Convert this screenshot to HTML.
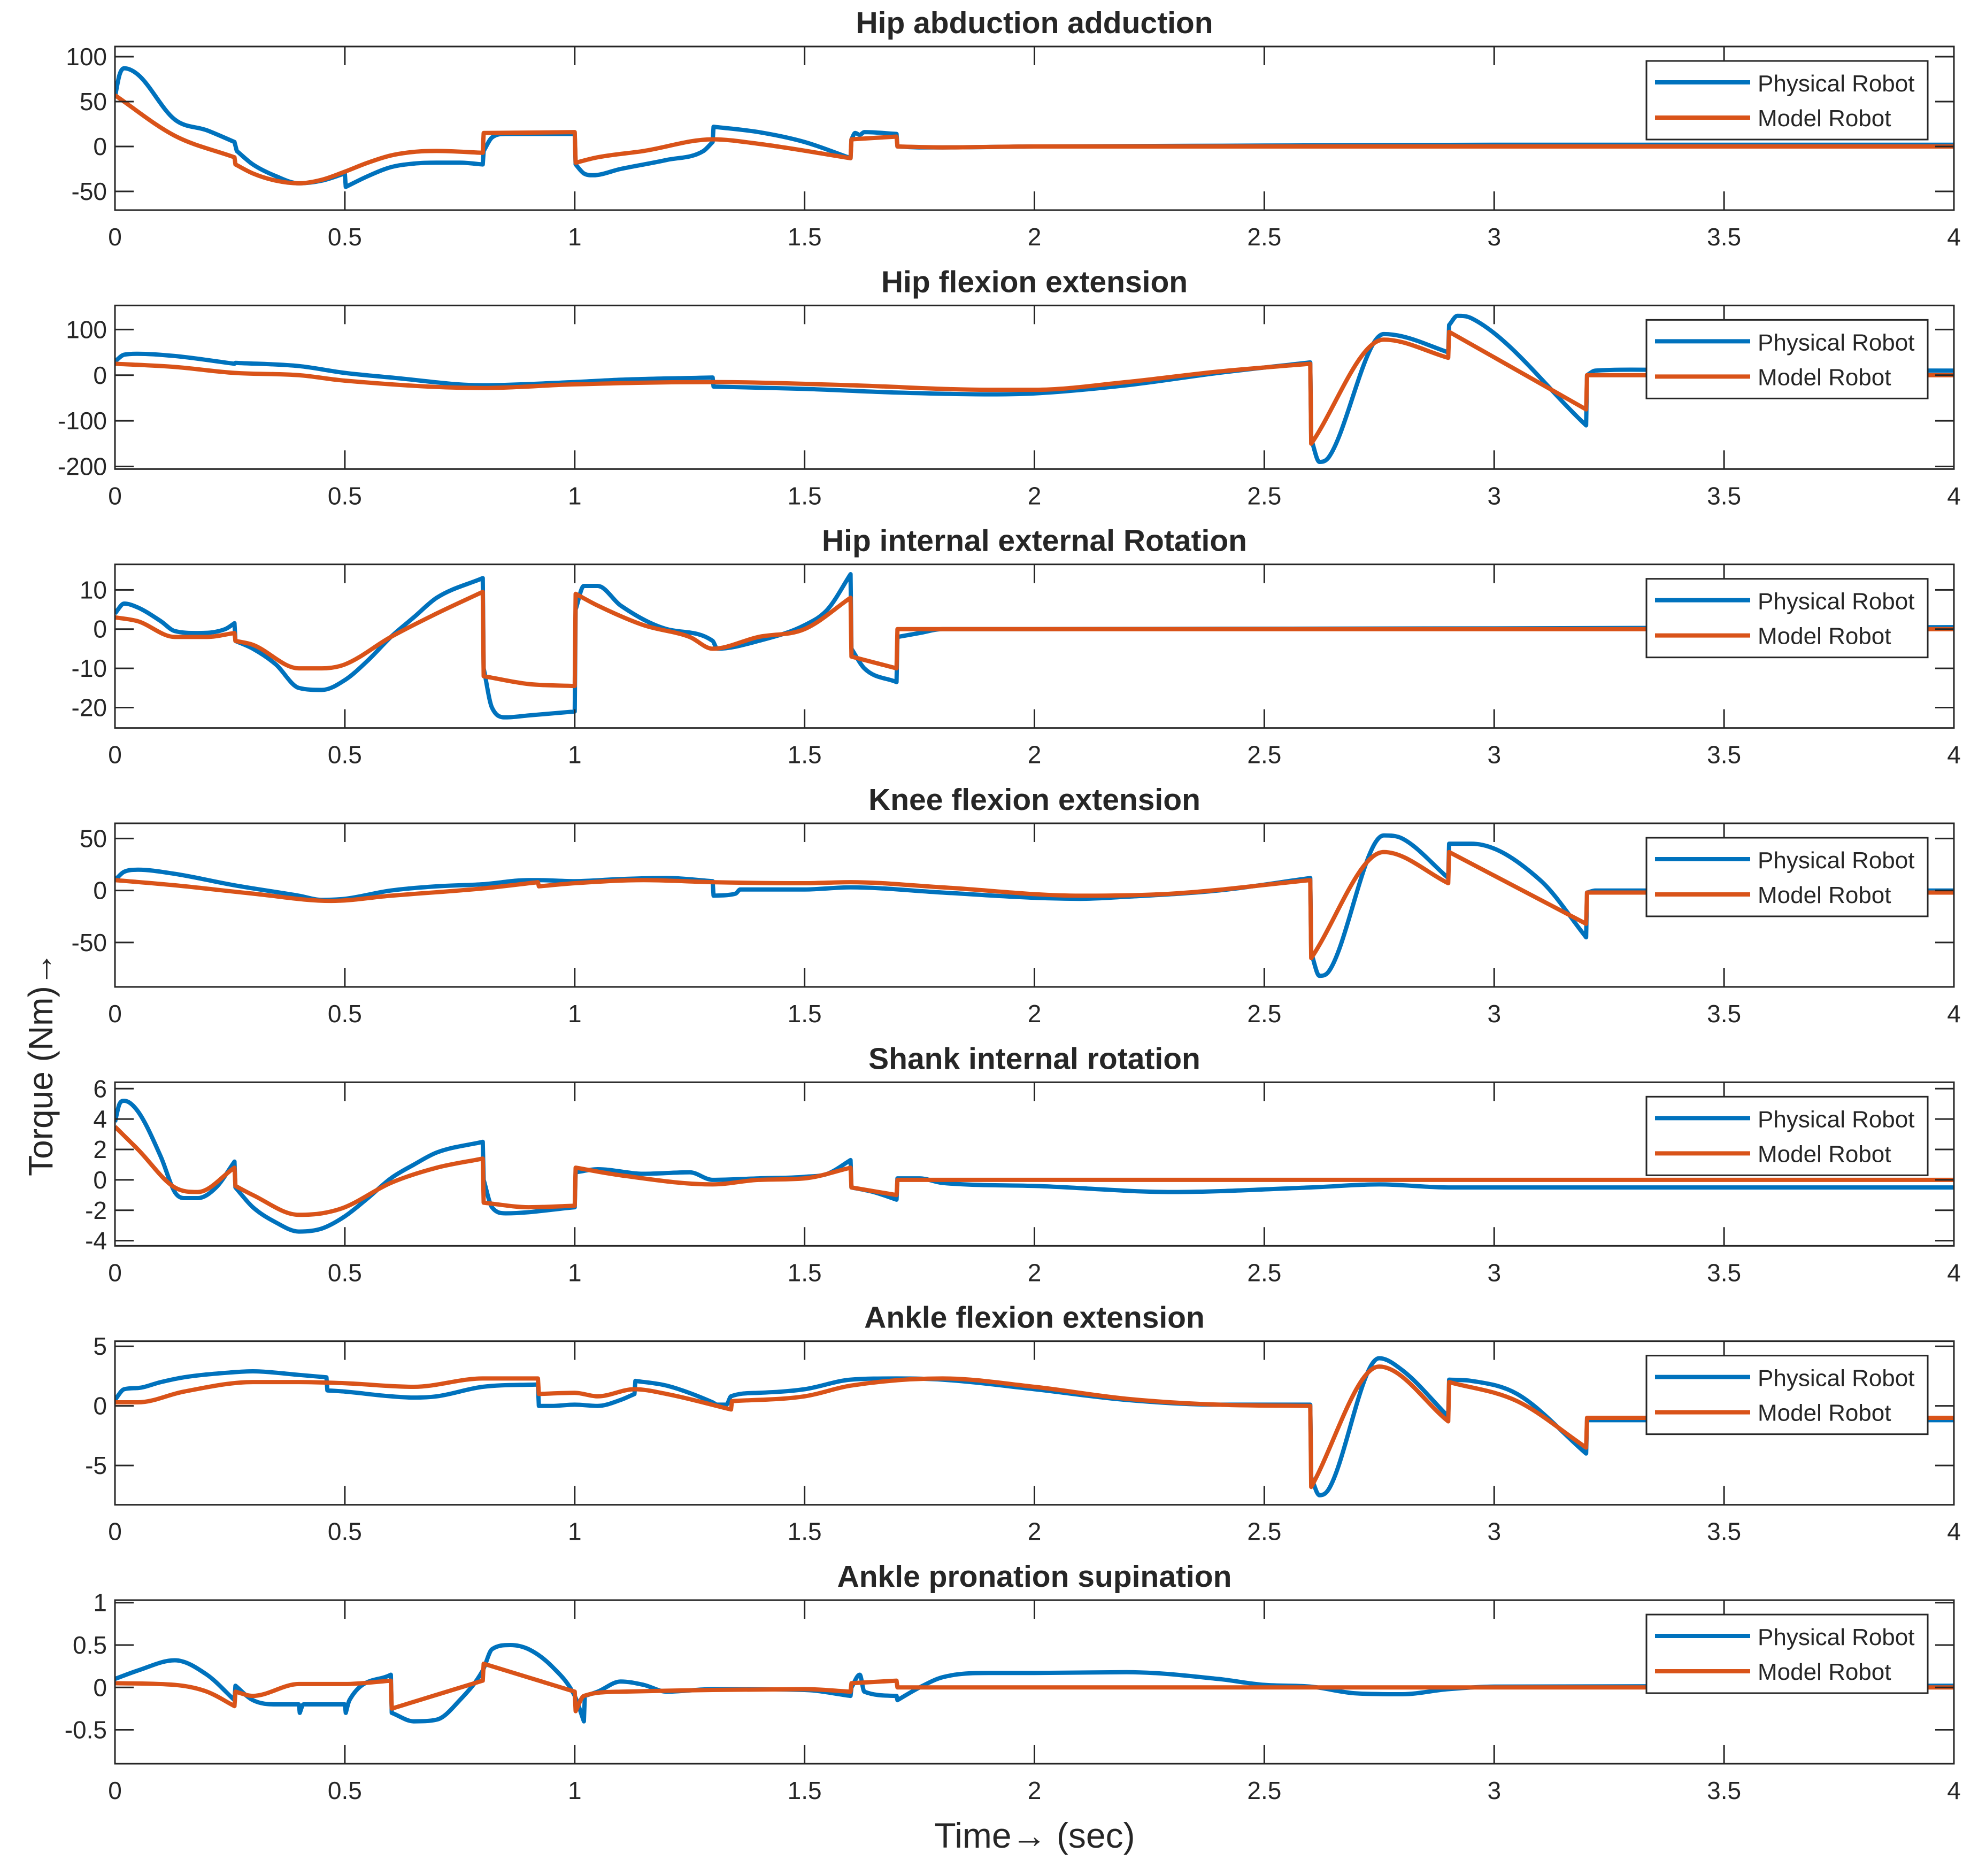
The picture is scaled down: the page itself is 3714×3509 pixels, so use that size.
<!DOCTYPE html>
<html><head><meta charset="utf-8"><style>
html,body{margin:0;padding:0;background:#fff;}
svg{display:block;}
text{font-family:"Liberation Sans",Arial,sans-serif;fill:#262626;}
</style></head><body>
<svg id="fig" width="3714" height="3509" viewBox="0 0 3714 3509" xmlns="http://www.w3.org/2000/svg">
<rect width="3714" height="3509" fill="#fff"/>
<text x="1935" y="3456" font-size="66" text-anchor="middle">Time→ (sec)</text>
<text x="0" y="0" font-size="64" text-anchor="middle" transform="translate(98,1990) rotate(-90)">Torque (Nm)→</text>
</svg>
<script>
// Categories (subplot titles)
const titles = ["Hip abduction adduction","Hip flexion extension","Hip internal external Rotation","Knee flexion extension","Shank internal rotation","Ankle flexion extension","Ankle pronation supination"];
const seriesNames = ["Physical Robot","Model Robot"];
const xTicks = [0,0.5,1,1.5,2,2.5,3,3.5,4];
const xTickLabels = ["0","0.5","1","1.5","2","2.5","3","3.5","4"];
const yTicks1 = [-50,0,50,100];
const yTicks2 = [-200,-100,0,100];
const yTicks3 = [-20,-10,0,10];
const yTicks4 = [-50,0,50];
const yTicks5 = [-4,-2,0,2,4,6];
const yTicks6 = [-5,0,5];
const yTicks7 = [-0.5,0,0.5,1];
const yLim1 = [-70.8,111.3];
const yLim2 = [-205.6,152.8];
const yLim3 = [-25.2,16.5];
const yLim4 = [-92.7,64.6];
const yLim5 = [-4.34,6.42];
const yLim6 = [-8.3,5.43];
const yLim7 = [-0.9,1.03];

// Series 1: Hip abduction adduction
const physT1 = [0,0.01,0.02,0.05,0.13,0.2,0.26,0.265,0.3,0.35,0.4,0.45,0.5,0.502,0.55,0.6,0.65,0.7,0.75,0.8,0.802,0.82,0.85,1.0,1.002,1.02,1.04,1.1,1.2,1.28,1.3,1.302,1.4,1.5,1.6,1.602,1.61,1.62,1.63,1.7,1.702,1.75,1.8,2,2.5,3,4];
const physV1 = [55,80,87,80,30,18,5,-5,-20,-33,-41,-38,-30,-45,-33,-23,-19,-18,-18,-20,-5,10,14,14,-20,-30,-32,-25,-15,-5,5,22,16,5,-13,8,15,13,16,14,0,-1,-1,0,1,2,2];
const modelT1 = [0,0.13,0.26,0.262,0.3,0.35,0.4,0.45,0.5,0.55,0.6,0.65,0.7,0.8,0.802,1.0,1.002,1.05,1.15,1.3,1.4,1.6,1.602,1.7,1.702,1.8,2,4];
const modelV1 = [57,12,-12,-20,-30,-38,-41,-37,-28,-18,-10,-6,-5,-7,15,16,-18,-12,-5,8,3,-13,8,11,0,-1,0,0];
// Series 2: Hip flexion extension
const physT2 = [0,0.02,0.05,0.13,0.26,0.262,0.4,0.5,0.6,0.8,1.0,1.1,1.3,1.302,1.5,1.7,1.9,2.0,2.2,2.4,2.6,2.602,2.62,2.64,2.76,2.8,2.9,2.902,2.92,2.95,3.2,3.202,3.22,3.3,3.5,4];
const physV2 = [30,45,47,42,25,27,20,5,-5,-22,-15,-10,-5,-25,-30,-38,-42,-40,-22,5,28,-140,-190,-180,90,85,50,110,130,125,-110,0,10,12,11,10];
const modelT2 = [0,0.13,0.26,0.4,0.5,0.8,1.0,1.3,1.6,1.9,2.0,2.2,2.4,2.6,2.602,2.76,2.9,2.902,3.2,3.202,4];
const modelV2 = [25,18,5,0,-12,-28,-20,-15,-22,-32,-32,-15,8,25,-150,78,38,95,-75,0,0];
// Series 3: Hip internal external rotation
const physT3 = [0,0.02,0.05,0.1,0.13,0.18,0.24,0.26,0.262,0.3,0.35,0.4,0.45,0.5,0.55,0.6,0.65,0.7,0.8,0.802,0.82,0.85,0.9,1.0,1.002,1.02,1.05,1.1,1.2,1.3,1.31,1.4,1.5,1.55,1.6,1.602,1.63,1.7,1.702,1.75,1.8,2,4];
const physV3 = [4,6.5,5.5,2,-0.5,-1,0,1.5,-3,-5,-9,-15,-15.5,-13,-8,-2,3,8,13,-10,-20,-22.5,-22,-21,5,11,11,6,0,-3,-5,-3,1,5,14,-5,-10,-13.5,-2,-1,0,0,0.5];
const modelT3 = [0,0.05,0.13,0.2,0.26,0.262,0.3,0.4,0.45,0.5,0.6,0.7,0.8,0.802,0.9,1.0,1.002,1.05,1.15,1.25,1.3,1.4,1.5,1.6,1.602,1.7,1.702,4];
const modelV3 = [3,2,-2,-2,-1,-3,-4,-10,-10,-9,-2,4,9.5,-12,-14,-14.5,9,6,1,-2,-5,-2,0,8,-7,-10,0,0];
// Series 4: Knee flexion extension
const physT4 = [0,0.02,0.05,0.13,0.26,0.4,0.45,0.5,0.6,0.7,0.8,0.9,0.92,1.0,1.1,1.2,1.3,1.302,1.35,1.36,1.5,1.6,1.8,2.0,2.1,2.2,2.4,2.6,2.602,2.62,2.64,2.76,2.8,2.9,2.902,2.95,3.1,3.2,3.202,3.22,3.3,4];
const physV4 = [10,18,20,16,5,-5,-9,-8,0,4,6,10,10,9,11,12,9,-5,-3,1,1,3,-2,-7,-8,-6,0,12,-60,-82,-78,53,50,12,45,45,10,-45,-2,0,0,0];
const modelT4 = [0,0.13,0.3,0.47,0.6,0.8,0.92,0.922,1.0,1.15,1.3,1.5,1.6,1.8,2.1,2.3,2.6,2.602,2.76,2.9,2.902,3.2,3.202,4];
const modelV4 = [10,5,-3,-10,-5,2,8,4,7,10,8,7,8,3,-5,-3,10,-65,37,7,37,-32,-2,-2];
// Series 5: Shank internal rotation
const physT5 = [0,0.01,0.02,0.05,0.1,0.13,0.15,0.18,0.22,0.26,0.262,0.3,0.35,0.4,0.45,0.5,0.55,0.6,0.65,0.7,0.8,0.802,0.82,0.85,1.0,1.002,1.05,1.15,1.25,1.3,1.4,1.5,1.55,1.6,1.602,1.65,1.7,1.702,1.75,1.8,2.0,2.3,2.6,2.75,2.9,3.0,4];
const physV5 = [3.8,5,5.2,4.5,1.5,-0.8,-1.2,-1.2,-0.5,1.2,-0.5,-1.8,-2.8,-3.4,-3.2,-2.4,-1.2,0.1,1,1.8,2.5,0,-1.8,-2.2,-1.8,0.5,0.7,0.4,0.5,0,0.1,0.2,0.4,1.3,-0.5,-0.8,-1.3,0.1,0.1,-0.2,-0.4,-0.8,-0.5,-0.3,-0.5,-0.5,-0.5];
const modelT5 = [0,0.05,0.13,0.18,0.26,0.262,0.3,0.4,0.45,0.5,0.6,0.7,0.8,0.802,0.9,1.0,1.002,1.1,1.3,1.4,1.5,1.6,1.602,1.7,1.702,4];
const modelV5 = [3.5,2,-0.5,-0.8,0.8,-0.4,-1,-2.3,-2.2,-1.8,-0.2,0.8,1.4,-1.5,-1.8,-1.7,0.8,0.3,-0.3,0,0.1,0.8,-0.5,-1,0,0];
// Series 6: Ankle flexion extension
const physT6 = [0,0.02,0.05,0.1,0.15,0.25,0.3,0.4,0.46,0.462,0.5,0.6,0.65,0.7,0.8,0.92,0.922,0.95,1.0,1.05,1.1,1.13,1.132,1.2,1.3,1.31,1.33,1.34,1.4,1.5,1.6,1.7,1.8,2.0,2.2,2.4,2.6,2.602,2.62,2.64,2.75,2.8,2.9,2.902,2.95,3.05,3.2,3.202,3.3,4];
const physV6 = [0.5,1.4,1.5,2,2.4,2.8,2.9,2.6,2.4,1.3,1.2,0.8,0.7,0.8,1.6,1.8,0,0,0.1,0,0.5,1.0,2.1,1.7,0.3,0.1,0.1,0.8,1.1,1.4,2.2,2.3,2.2,1.4,0.5,0.1,0.1,-6,-7.5,-7,4,3,-0.9,2.2,2.1,1,-4,-1.2,-1.2,-1.2];
const modelT6 = [0,0.05,0.15,0.3,0.4,0.5,0.65,0.8,0.92,0.922,1.0,1.05,1.13,1.2,1.34,1.342,1.5,1.6,1.8,2.0,2.2,2.4,2.6,2.602,2.75,2.9,2.902,3.05,3.2,3.202,4];
const modelV6 = [0.3,0.3,1.2,2.0,2.0,1.9,1.6,2.3,2.3,1.0,1.1,0.8,1.4,1.0,-0.3,0.4,0.8,1.7,2.3,1.6,0.6,0.1,0,-6.8,3.3,-1.3,2,0.4,-3.5,-1,-1];
// Series 7: Ankle pronation supination
const physT7 = [0,0.05,0.13,0.2,0.26,0.262,0.3,0.35,0.4,0.402,0.41,0.5,0.502,0.51,0.6,0.602,0.65,0.7,0.75,0.8,0.82,0.86,0.9,0.95,1.0,1.02,1.022,1.05,1.1,1.15,1.2,1.3,1.5,1.6,1.602,1.62,1.63,1.7,1.702,1.75,1.8,1.9,2.0,2.2,2.4,2.5,2.6,2.7,2.8,2.9,3.0,4];
const physV7 = [0.1,0.2,0.32,0.15,-0.15,0.02,-0.15,-0.2,-0.2,-0.3,-0.2,-0.2,-0.3,-0.15,0.15,-0.3,-0.4,-0.38,-0.15,0.2,0.45,0.5,0.45,0.25,-0.1,-0.4,-0.1,-0.05,0.07,0.03,-0.05,-0.02,-0.03,-0.1,0.0,0.15,-0.05,-0.1,-0.15,0,0.12,0.17,0.17,0.18,0.1,0.03,0.01,-0.07,-0.08,-0.02,0.01,0.02];
const modelT7 = [0,0.13,0.2,0.26,0.262,0.3,0.4,0.5,0.6,0.602,0.8,0.802,1.0,1.002,1.02,1.1,1.3,1.5,1.6,1.602,1.7,1.702,4];
const modelV7 = [0.05,0.03,-0.05,-0.22,-0.05,-0.1,0.04,0.04,0.08,-0.25,0.08,0.28,-0.05,-0.28,-0.1,-0.05,-0.03,-0.02,-0.05,0.05,0.08,0,0];

const physT=[physT1,physT2,physT3,physT4,physT5,physT6,physT7];
const physV=[physV1,physV2,physV3,physV4,physV5,physV6,physV7];
const modelT=[modelT1,modelT2,modelT3,modelT4,modelT5,modelT6,modelT7];
const modelV=[modelV1,modelV2,modelV3,modelV4,modelV5,modelV6,modelV7];
const yTicksAll=[yTicks1,yTicks2,yTicks3,yTicks4,yTicks5,yTicks6,yTicks7];
const yLims=[yLim1,yLim2,yLim3,yLim4,yLim5,yLim6,yLim7];

const NS="http://www.w3.org/2000/svg";
const svg=document.getElementById('fig');
const L=215,R=3654,H=306,TOP0=87,STEP=484.33;
const AX="#262626";
function mk(tag,attrs,parent){const e=document.createElementNS(NS,tag);for(const k in attrs)e.setAttribute(k,attrs[k]);(parent||svg).appendChild(e);return e;}
function xScale(t){return L+(t-xTicks[0])/(xTicks[xTicks.length-1]-xTicks[0])*(R-L);}
function fmt(v){return (v<0?"-":"")+String(Math.abs(v));}

// monotone cubic path through points; straight segments across jumps (dt<0.006)
function buildPath(ts,vs,yScale){
  const P=ts.map((t,k)=>[xScale(t),yScale(vs[k])]);
  const segs=[];let cur=[0];
  for(let k=1;k<ts.length;k++){
    if(ts[k]-ts[k-1]<0.006){segs.push(cur);cur=[k];}
    else cur.push(k);
  }
  segs.push(cur);
  let d='M'+P[0][0].toFixed(1)+' '+P[0][1].toFixed(1);
  segs.forEach((sg,si)=>{
    if(si>0){const p=P[sg[0]];d+='L'+p[0].toFixed(1)+' '+p[1].toFixed(1);}
    const n=sg.length;if(n<2)return;
    const xs=sg.map(k=>P[k][0]),ys=sg.map(k=>P[k][1]);
    const dl=[],m=[];
    for(let k=0;k<n-1;k++)dl.push((ys[k+1]-ys[k])/(xs[k+1]-xs[k]));
    m[0]=dl[0];m[n-1]=dl[n-2];
    for(let k=1;k<n-1;k++){m[k]=(dl[k-1]*dl[k]<=0)?0:(dl[k-1]+dl[k])/2;}
    for(let k=0;k<n-1;k++){
      if(dl[k]===0){m[k]=0;m[k+1]=0;continue;}
      const a=m[k]/dl[k],b=m[k+1]/dl[k],s=a*a+b*b;
      if(s>9){const tt=3/Math.sqrt(s);m[k]=tt*a*dl[k];m[k+1]=tt*b*dl[k];}
    }
    for(let k=0;k<n-1;k++){
      const h=(xs[k+1]-xs[k])/3;
      d+='C'+(xs[k]+h).toFixed(1)+' '+(ys[k]+m[k]*h).toFixed(1)+' '+(xs[k+1]-h).toFixed(1)+' '+(ys[k+1]-m[k+1]*h).toFixed(1)+' '+xs[k+1].toFixed(1)+' '+ys[k+1].toFixed(1);
    }
  });
  return d;
}

for(let i=0;i<7;i++){
  const top=TOP0+i*STEP, bot=top+H, lim=yLims[i];
  const yScale=v=>bot-(v-lim[0])/(lim[1]-lim[0])*H;
  const g=mk('g',{});
  
  
  const clipId='clip'+i;
  const cp=mk('clipPath',{id:clipId},g);
  mk('rect',{x:L,y:top,width:R-L,height:H},cp);
  const tt=mk('text',{x:(L+R)/2,y:top-25,'font-size':57,'font-weight':'bold','text-anchor':'middle',fill:'#000'},g);
  tt.textContent=titles[i];
  
  
  const sets=[[physT[i],physV[i],'#0072BD','physical-robot-line'],[modelT[i],modelV[i],'#D95319','model-robot-line']];
  for(const s of sets){
    const p=mk('path',{d:buildPath(s[0],s[1],yScale),fill:'none',stroke:s[2],'stroke-width':8,'stroke-linejoin':'round','clip-path':'url(#'+clipId+')'},g);
    
    
  }
  const bx=mk('rect',{x:L,y:top,width:R-L,height:H,fill:'none',stroke:AX,'stroke-width':3},g);
  
  
  xTicks.forEach((t,k)=>{
    const x=xScale(t);
    mk('line',{x1:x,x2:x,y1:bot,y2:bot-35,stroke:AX,'stroke-width':3},g);
    mk('line',{x1:x,x2:x,y1:top,y2:top+35,stroke:AX,'stroke-width':3},g);
    const lb=mk('text',{x:x,y:bot+66,'font-size':46,'text-anchor':'middle'},g);
    lb.textContent=xTickLabels[k];
    
    
  });
  yTicksAll[i].forEach(v=>{
    const y=yScale(v);
    mk('line',{x1:L,x2:L+35,y1:y,y2:y,stroke:AX,'stroke-width':3},g);
    mk('line',{x1:R,x2:R-35,y1:y,y2:y,stroke:AX,'stroke-width':3},g);
    const lb=mk('text',{x:200,y:y+16,'font-size':46,'text-anchor':'end'},g);
    lb.textContent=fmt(v);
    
    
  });
  const lg=mk('g',{},g);
  
  
  const ly=top+27;
  mk('rect',{x:3079,y:ly,width:526,height:147,fill:'#fff',stroke:AX,'stroke-width':3},lg);
  [['#0072BD',40,57],['#D95319',106,122]].forEach((c,k)=>{
    const ln=mk('line',{x1:3095,x2:3273,y1:ly+c[1],y2:ly+c[1],stroke:c[0],'stroke-width':8},lg);
    
    
    const tx=mk('text',{x:3287,y:ly+c[2],'font-size':44,fill:'#000'},lg);
    tx.textContent=seriesNames[k];
    
    
  });
}
</script>
</body></html>
